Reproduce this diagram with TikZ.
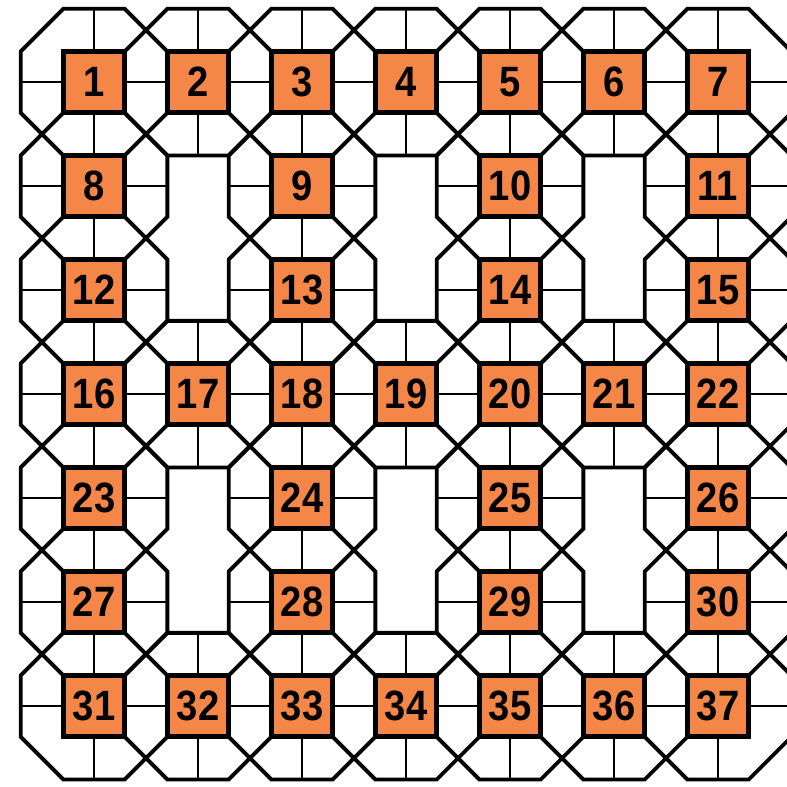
\documentclass[tikz,border=0pt]{standalone}
\usepackage{fontspec}
\setmainfont{Liberation Sans}
\newfontfamily\sitefont{Liberation Sans}[FakeStretch=0.9]
\usetikzlibrary{backgrounds}
\definecolor{siteorange}{RGB}{244, 135, 72}
\tikzset{
  sitebox/.style={draw=black, fill=siteorange, line width=1.4pt, minimum size=0.59cm, inner sep=0pt, font=\sitefont\bfseries\fontsize{11.6}{13}\selectfont},
  octline/.style={line width=1.05pt},
  spokeline/.style={line width=0.7pt}
}

\begin{document}
\begin{tikzpicture}
    \useasboundingbox (-0.904,0.79) rectangle (6.663,-6.768);

    % sites
    \foreach \n/\c/\r in {1/0/0, 2/1/0, 3/2/0, 4/3/0, 5/4/0, 6/5/0, 7/6/0,
                          8/0/1, 9/2/1, 10/4/1, 11/6/1,
                          12/0/2, 13/2/2, 14/4/2, 15/6/2,
                          16/0/3, 17/1/3, 18/2/3, 19/3/3, 20/4/3, 21/5/3, 22/6/3,
                          23/0/4, 24/2/4, 25/4/4, 26/6/4,
                          27/0/5, 28/2/5, 29/4/5, 30/6/5,
                          31/0/6, 32/1/6, 33/2/6, 34/3/6, 35/4/6, 36/5/6, 37/6/6} {
        \node (s\n) [sitebox] at (\c,-\r) {\n};
    }

    % octagons and spokes
    \begin{scope}[on background layer]
        \clip (-0.904,0.79) rectangle (6.663,-6.768);
        \foreach \n in {1,...,37} {
            \draw[octline, shift={(s\n)}] (-0.295,0.705) -- (0.295,0.705) -- (0.705,0.295) -- (0.705,-0.295)
                -- (0.295,-0.705) -- (-0.295,-0.705) -- (-0.705,-0.295) -- (-0.705,0.295) -- cycle;
            \draw[spokeline, shift={(s\n)}] (0,-0.705) -- (0,0.705) (-0.705,0) -- (0.705,0);
        }
    \end{scope}
\end{tikzpicture}
\end{document}
